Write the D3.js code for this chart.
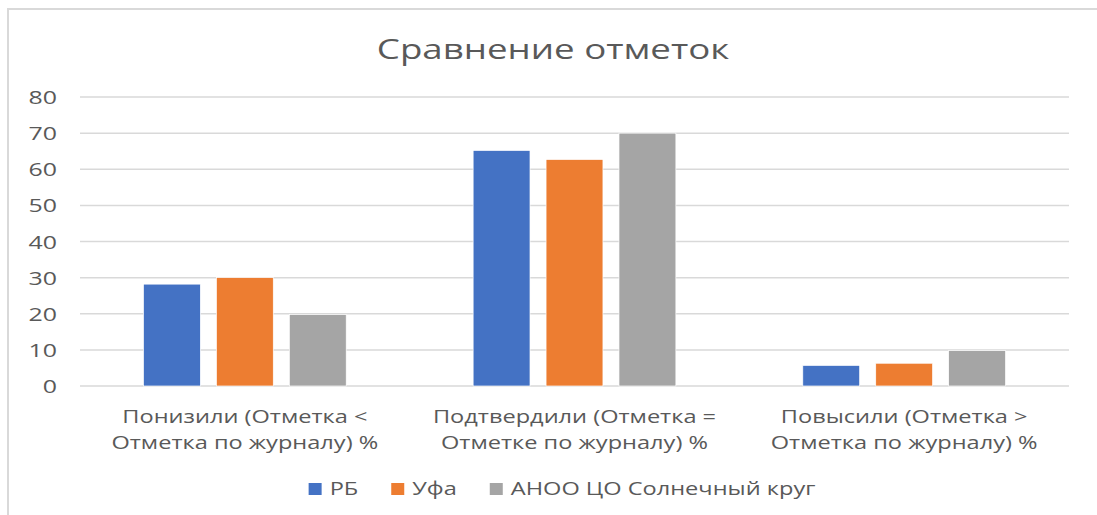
<!DOCTYPE html>
<html>
<head>
<meta charset="utf-8">
<script src="https://cdn.jsdelivr.net/npm/d3@7"></script>
<style>
  body { margin: 0; background: #fff; }
  svg { display: block; }
  text { font-family: "Open Sans", "Noto Sans", sans-serif; fill: #595959; }
</style>
</head>
<body>
<svg id="chart" width="1097" height="515"></svg>
<script>
// categories (two lines each) and series
const categories = [
    ["Понизили (Отметка <", "Отметка по журналу) %"],
    ["Подтвердили (Отметка =", "Отметке по журналу) %"],
    ["Повысили (Отметка >", "Отметка по журналу) %"]
];
const seriesNames = ["РБ", "Уфа", "АНОО ЦО Солнечный круг"];
const seriesColors = ["#4472C4", "#ED7D31", "#A5A5A5"];
const rbValues = [28.2, 65.2, 5.7];
const ufaValues = [30.0, 62.7, 6.3];
const anooValues = [19.8, 70.0, 9.8];
const yTicks = [0, 10, 20, 30, 40, 50, 60, 70, 80];

const seriesValues = [rbValues, ufaValues, anooValues];
const sx = 1.31; // horizontal stretch of the source picture's text

const svg = d3.select("#chart");

// chart border (left + top visible)
svg.append("path")
    .attr("d", "M8,515 V9 H1097")
    .attr("fill", "none")
    .attr("stroke", "#d9d9d9")
    .attr("stroke-width", 2);

const plotLeft = 80, plotRight = 1069, plotTop = 97, plotBottom = 386;

const x0 = d3.scaleBand()
    .domain(d3.range(categories.length))
    .range([plotLeft, plotRight]);

const x1 = d3.scaleBand()
    .domain(d3.range(seriesNames.length))
    .range([0, x0.bandwidth()])
    .paddingInner(0.22)
    .paddingOuter(0.87);

const y = d3.scaleLinear()
    .domain([0, 80])
    .range([plotBottom, plotTop]);

function stretchedText(sel, tx, ty) {
    return sel.attr("transform", `translate(${tx},${ty}) scale(${sx},1)`);
}

// title
stretchedText(svg.append("text"), 553, 59)
    .attr("text-anchor", "middle")
    .attr("font-size", 28)
    .text("Сравнение отметок");

// gridlines
svg.append("g")
    .selectAll("line")
    .data(yTicks)
    .enter()
    .append("line")
    .attr("x1", plotLeft)
    .attr("x2", plotRight)
    .attr("y1", d => y(d))
    .attr("y2", d => y(d))
    .attr("stroke", "#d9d9d9")
    .attr("stroke-width", 1.5);

// y tick labels
svg.append("g")
    .selectAll("text")
    .data(yTicks)
    .enter()
    .append("text")
    .attr("text-anchor", "end")
    .attr("font-size", 19)
    .attr("transform", d => `translate(57,${y(d) + 7}) scale(${sx},1)`)
    .text(d => d);

// bars
const groups = svg.append("g")
    .selectAll("g")
    .data(categories.map((c, i) => i))
    .enter()
    .append("g")
    .attr("transform", i => `translate(${x0(i)},0)`);

groups.selectAll("rect")
    .data(i => seriesValues.map((vals, s) => ({ s: s, v: vals[i] })))
    .enter()
    .append("rect")
    .attr("x", d => x1(d.s))
    .attr("y", d => y(d.v))
    .attr("width", x1.bandwidth())
    .attr("height", d => y(0) - y(d.v))
    .attr("fill", d => seriesColors[d.s])
    .attr("stroke", "#fff")
    .attr("stroke-width", 0.7);

// category labels
categories.forEach((lines, i) => {
    const cx = x0(i) + x0.bandwidth() / 2;
    lines.forEach((line, k) => {
        stretchedText(svg.append("text"), cx, 423 + k * 26)
            .attr("text-anchor", "middle")
            .attr("font-size", 18)
            .text(line);
    });
});

// legend
const legend = svg.append("g");
let lx = 0;
seriesNames.forEach((name, s) => {
    const item = legend.append("g").attr("transform", `translate(${lx},0)`);
    item.append("rect")
        .attr("x", 0)
        .attr("y", -12)
        .attr("width", 13)
        .attr("height", 12)
        .attr("fill", seriesColors[s]);
    const t = stretchedText(item.append("text"), 21, 0)
        .attr("font-size", 18)
        .text(name);
    lx += 21 + t.node().getComputedTextLength() * sx + 33;
});
const legendWidth = lx - 33;
legend.attr("transform", `translate(${562 - legendWidth / 2},495)`);
</script>
</body>
</html>
